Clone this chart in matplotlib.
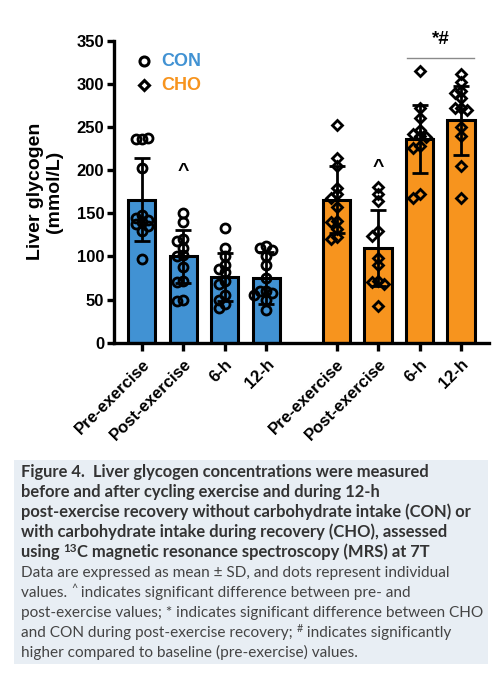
import numpy as np
import matplotlib
matplotlib.use("Agg")
import matplotlib.pyplot as plt
from matplotlib.patches import Rectangle

# datos
etiquetas = ["Pre-exercise", "Post-exercise", "6-h", "12-h"]
grupos = ["CON", "CHO"]

con_media = [166, 100, 76, 75]
con_sd = [48, 31, 28, 30]
cho_media = [166, 110, 236, 258]
cho_sd = [39, 44, 39, 40]

con_puntos = [
    [236, 236, 237, 203, 148, 145, 142, 140, 138, 135, 130, 97],
    [150, 140, 120, 118, 110, 102, 100, 88, 72, 70, 50, 48],
    [133, 110, 100, 90, 86, 82, 72, 68, 55, 50, 45, 40],
    [112, 110, 108, 100, 90, 75, 60, 60, 58, 55, 50, 38],
]
cho_puntos = [
    [252, 214, 205, 179, 172, 168, 157, 141, 140, 132, 122, 120],
    [180, 172, 164, 130, 124, 98, 90, 72, 70, 68, 42],
    [315, 272, 260, 247, 242, 240, 238, 228, 226, 172, 168],
    [312, 302, 292, 290, 284, 272, 272, 270, 250, 240, 205, 168],
]

AZUL = "#4192d3"
NARANJA = "#f7941e"
FUENTE = "Liberation Sans"

pos_con = np.arange(4)
pos_cho = np.arange(4) + 4.7


def enjambre(ax, x0, valores, diam_px):
    """Reparte los puntos horizontalmente para que no se encimen demasiado."""
    puestos = []
    xs = []
    paso = diam_px * 0.62
    for v in valores:
        px, py = ax.transData.transform((x0, v))
        k = 0
        while True:
            for s in ([0] if k == 0 else [-1, 1]):
                cx = px + s * k * paso
                ok = all((cx - a) ** 2 + (py - b) ** 2 >= (diam_px * 0.6) ** 2 for a, b in puestos)
                if ok:
                    break
            if ok or k >= 2:
                break
            k += 1
        puestos.append((cx, py))
        xs.append(ax.transData.inverted().transform((cx, py))[0])
    return xs


def texto_partes(fig, x, y, partes, **kw):
    """Escribe trozos de texto seguidos; algunos como superindice."""
    r = fig.canvas.get_renderer()
    for t, sup in partes:
        tam = kw["fontsize"] * (0.7 if sup else 1.0)
        dy = 0.008 if sup else 0
        opts = dict(kw)
        opts["fontsize"] = tam
        tx = fig.text(x, y + dy, t, **opts)
        bb = tx.get_window_extent(renderer=r)
        x += bb.width / fig.bbox.width


fig = plt.figure(figsize=(5.03, 6.80), dpi=100)
ax = fig.add_axes([0.2266, 0.496, 0.7454, 0.444])
ax.set_xlim(-0.67, 8.37)
ax.set_ylim(0, 350)

ax.bar(pos_con, con_media, width=0.66, color=AZUL, edgecolor="black", linewidth=2.2, zorder=2)
ax.bar(pos_cho, cho_media, width=0.66, color=NARANJA, edgecolor="black", linewidth=2.2, zorder=2)
ax.errorbar(pos_con, con_media, yerr=con_sd, fmt="none", ecolor="black", elinewidth=2.0,
            capsize=6, capthick=2.0, zorder=3)
ax.errorbar(pos_cho, cho_media, yerr=cho_sd, fmt="none", ecolor="black", elinewidth=2.0,
            capsize=6, capthick=2.0, zorder=3)

for x0, pts in zip(pos_con, con_puntos):
    xs = enjambre(ax, x0, pts, 10)
    ax.plot(xs, pts, "o", ms=6.5, mfc="none", mec="black", mew=2.0, zorder=4, clip_on=False)
for x0, pts in zip(pos_cho, cho_puntos):
    xs = enjambre(ax, x0, pts, 10)
    ax.plot(xs, pts, "D", ms=5.5, mfc="none", mec="black", mew=2.0, zorder=4, clip_on=False)

# marcas de significancia
ax.text(pos_con[1], 198, "^", ha="center", va="center", fontsize=14, fontweight="bold", family=FUENTE)
ax.text(pos_cho[1], 203, "^", ha="center", va="center", fontsize=14, fontweight="bold", family=FUENTE)
ax.plot([pos_cho[2] - 0.31, pos_cho[3] + 0.31], [330, 330], color="#8a8a8a", lw=1.0)
ax.text((pos_cho[2] + pos_cho[3]) / 2, 351, "*#", ha="center", va="center", fontsize=13.5,
        fontweight="bold", family=FUENTE)

# leyenda
ax.plot([0.08], [0.933], "o", ms=6.5, mfc="none", mec="black", mew=2.2, transform=ax.transAxes, clip_on=False)
ax.plot([0.08], [0.853], "D", ms=5.5, mfc="none", mec="black", mew=2.2, transform=ax.transAxes, clip_on=False)
ax.text(0.125, 0.933, "CON", color=AZUL, fontsize=13, fontweight="bold", va="center",
        transform=ax.transAxes, family=FUENTE)
ax.text(0.125, 0.853, "CHO", color=NARANJA, fontsize=13, fontweight="bold", va="center",
        transform=ax.transAxes, family=FUENTE)

# ejes
for lado in ["top", "right"]:
    ax.spines[lado].set_visible(False)
for lado in ["left", "bottom"]:
    ax.spines[lado].set_linewidth(2.4)
ax.set_yticks(range(0, 351, 50))
ax.set_xticks(np.concatenate([pos_con, pos_cho]))
ax.set_xticklabels(etiquetas * 2, rotation=45, ha="right", rotation_mode="anchor")
ax.tick_params(axis="both", width=2.4, length=5, labelsize=12, pad=2)
ax.tick_params(axis="x", length=6, pad=4)
for lab in ax.get_xticklabels() + ax.get_yticklabels():
    lab.set_fontweight("bold")
    lab.set_family(FUENTE)
ax.set_ylabel("Liver glycogen\n(mmol/L)", fontsize=14, fontweight="bold", family=FUENTE,
              linespacing=1.1, labelpad=10)

# pie de figura
fig.patches.append(Rectangle((0.0278, 0.0235), 0.942, 0.30, transform=fig.transFigure,
                             facecolor="#e8eef4", edgecolor="none", zorder=0))
CAP = "Lato"
negritas = [
    [("Figure 4.  Liver glycogen concentrations were measured", False)],
    [("before and after cycling exercise and during 12-h", False)],
    [("post-exercise recovery without carbohydrate intake (CON) or", False)],
    [("with carbohydrate intake during recovery (CHO), assessed", False)],
    [("using ", False), ("13", True), ("C magnetic resonance spectroscopy (MRS) at 7T", False)],
]
normales = [
    [("Data are expressed as mean \u00b1 SD, and dots represent individual", False)],
    [("values. ", False), ("^", True), (" indicates significant difference between pre- and", False)],
    [("post-exercise values; * indicates significant difference between CHO", False)],
    [("and CON during post-exercise recovery; ", False), ("#", True), (" indicates significantly", False)],
    [("higher compared to baseline (pre-exercise) values.", False)],
]
fig.canvas.draw()
y = 1 - 477 / 680
for partes in negritas:
    texto_partes(fig, 0.042, y, partes, fontsize=11.9, fontweight="bold", color="#333333",
                 family=CAP, va="baseline")
    y -= 20 / 680
for partes in normales:
    texto_partes(fig, 0.042, y, partes, fontsize=11.1, color="#444444", family=CAP, va="baseline")
    y -= 20 / 680

fig.savefig("out.png", dpi=100)
